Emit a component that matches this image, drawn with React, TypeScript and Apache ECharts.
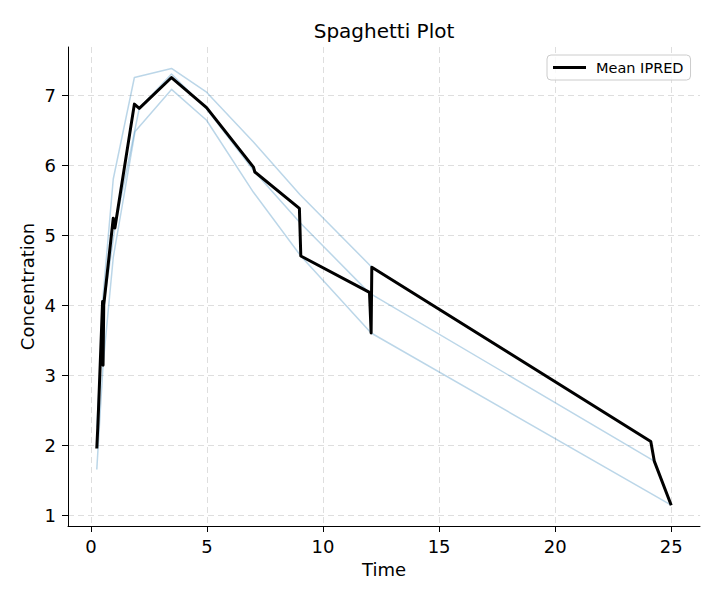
import React, { useEffect, useRef } from "react";
import * as echarts from "echarts";

// Individual subject curves (light blue)
const subjATime = [0.3, 0.5, 0.96, 1.87, 3.47, 4.98, 7.0, 9.0, 12.1, 24.12];
const subjAConc = [2.3, 4.05, 5.8, 7.25, 7.38, 7.04, 6.33, 5.58, 4.54, 2.05];
const subjBTime = [0.25, 0.55, 1.03, 2.08, 3.47, 4.98, 7.06, 9.0, 12.0, 24.27];
const subjBConc = [2.25, 4.0, 5.1, 6.81, 7.3, 6.8, 5.9, 5.18, 4.17, 1.77];
const subjCTime = [0.25, 0.52, 0.96, 1.9, 3.47, 4.98, 7.0, 9.04, 12.07, 25.0];
const subjCConc = [1.65, 3.14, 4.68, 6.48, 7.08, 6.64, 5.61, 4.7, 3.6, 1.14];

// Mean IPRED line (black)
const meanTime = [0.25, 0.3, 0.5, 0.52, 0.55, 0.96, 1.03, 1.87, 2.08, 3.47, 4.98, 7.0, 7.06, 8.98, 9.04, 12.0, 12.07, 12.1, 24.12, 24.27, 25.0];
const meanConc = [1.95, 2.3, 4.05, 3.14, 4.0, 5.24, 5.1, 6.87, 6.81, 7.25, 6.82, 5.97, 5.9, 5.38, 4.7, 4.18, 3.6, 4.54, 2.05, 1.77, 1.14];

// Tick labels
const xTicks = [0, 5, 10, 15, 20, 25];
const yTicks = [1, 2, 3, 4, 5, 6, 7];

const FONT = "'DejaVu Sans', sans-serif";

const zip = (xs: number[], ys: number[]) => xs.map((x, i) => [x, ys[i]]);

export default function App() {
  const ref = useRef<HTMLDivElement>(null);

  useEffect(() => {
    if (!ref.current) return;
    const chart = echarts.init(ref.current, undefined, { renderer: "svg" });
    const subjStyle = { color: "rgba(31,119,180,0.3)", width: 1.5, join: "round" };
    const subjects = [
      zip(subjATime, subjAConc),
      zip(subjBTime, subjBConc),
      zip(subjCTime, subjCConc),
    ];
    const option: any = {
      animation: false,
      backgroundColor: "#ffffff",
      textStyle: { fontFamily: FONT },
      graphic: [
        {
          type: "text",
          x: 384,
          y: 31,
          style: {
            text: "Spaghetti Plot",
            font: `20px ${FONT}`,
            fill: "#000",
            textAlign: "center",
            textVerticalAlign: "middle",
          },
        },
      ],
      grid: { left: 68, right: 20, top: 47, bottom: 74, containLabel: false },
      legend: {
        data: ["Mean IPRED"],
        icon: "rect",
        left: 547,
        top: 55,
        itemWidth: 33,
        itemHeight: 3,
        padding: [5, 7, 5, 6],
        borderColor: "#cccccc",
        borderWidth: 1,
        borderRadius: 4,
        backgroundColor: "rgba(255,255,255,0.8)",
        textStyle: { color: "#000", fontSize: 14.5, fontFamily: FONT, padding: [0, 0, 0, 5] },
      },
      xAxis: {
        type: "value",
        min: -0.99,
        max: 26.24,
        name: "Time",
        nameLocation: "middle",
        nameGap: 34,
        nameTextStyle: { color: "#000", fontSize: 18, fontFamily: FONT },
        axisLine: { onZero: false, lineStyle: { color: "#000", width: 1 } },
        axisTick: { show: true, length: 6, lineStyle: { color: "#000", width: 1 }, customValues: xTicks },
        axisLabel: { customValues: xTicks, color: "#000", fontSize: 18, fontFamily: FONT, margin: 11 },
        splitLine: { show: true, lineStyle: { type: [6, 4], color: "#dedede", width: 1 } },
      },
      yAxis: {
        type: "value",
        min: 0.843,
        max: 7.686,
        name: "Concentration",
        nameLocation: "middle",
        nameGap: 32,
        nameMoveOverlap: false,
        nameTextStyle: { color: "#000", fontSize: 18, fontFamily: FONT },
        axisLine: { show: true, onZero: false, lineStyle: { color: "#000", width: 1 } },
        axisTick: { show: true, length: 6, lineStyle: { color: "#000", width: 1 }, customValues: yTicks },
        axisLabel: { customValues: yTicks, color: "#000", fontSize: 18, fontFamily: FONT, margin: 12 },
        splitLine: { show: true, lineStyle: { type: [6, 4], color: "#dedede", width: 1 } },
      },
      series: [
        ...subjects.map((d, i) => ({
          name: `Subject ${i + 1}`,
          type: "line",
          data: d,
          symbol: "none",
          showSymbol: false,
          lineStyle: subjStyle,
          itemStyle: { color: "rgba(31,119,180,0.3)" },
          emphasis: { disabled: true },
          z: 2,
        })),
        {
          name: "Mean IPRED",
          type: "line",
          data: zip(meanTime, meanConc),
          symbol: "none",
          showSymbol: false,
          lineStyle: { color: "#000", width: 3, join: "round" },
          itemStyle: { color: "#000" },
          emphasis: { disabled: true },
          z: 3,
        },
      ],
    };
    chart.setOption(option);
    return () => chart.dispose();
  }, []);

  return (
    <div
      ref={ref}
      style={{ position: "absolute", left: 0, top: 0, width: 720, height: 600 }}
    />
  );
}
